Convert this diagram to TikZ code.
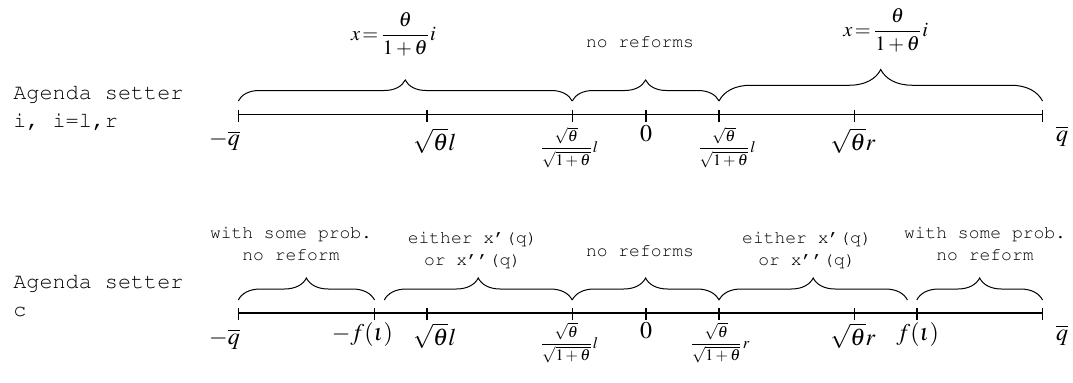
\documentclass[tikz,border=0pt]{standalone}
\usepackage[T1]{fontenc}
\usepackage{amsmath}
\usepackage{mathptmx}
\usepackage{courier}
\usetikzlibrary{decorations.pathreplacing, calc, positioning}

\newcommand{\agendafont}{\fontsize{10.9}{14}\selectfont\ttfamily}
\newcommand{\notefont}{\fontsize{9}{11}\selectfont\ttfamily}
\newcommand{\cutoff}[1]{{\fontsize{8}{10}\selectfont$\dfrac{\sqrt{\theta}}{\sqrt{1+\theta}}#1$}}
\newcommand{\policy}{{\fontsize{10.2}{12}\selectfont$x\!=\!\dfrac{\theta}{1+\theta}i$}}

\begin{document}
\begin{tikzpicture}[x=0.5pt, y=-0.5pt,
    axis/.style={line width=0.7pt},
    brc/.style={decorate, decoration={brace, amplitude=#1}, line width=0.5pt},
    brc/.default=10.5pt,
    lab/.style={inner sep=0pt, font=\fontsize{12}{14}\selectfont},
    note/.style={inner sep=0pt, align=center, font=\notefont},
    setter/.style={inner sep=0pt, align=left, anchor=west, font=\agendafont}]
    \useasboundingbox (0,0) rectangle (1073,382);

    % upper line: agenda setter i
    \foreach \n/\x in {1/238.3, 2/427, 3/572.2, 4/646, 5/719, 6/854.4, 7/1042.5}
        \coordinate (u\n) at (\x,114.5);
    \draw[axis] (u1) -- (u7);
    \foreach \n in {1,...,7}
        \draw[axis] (u\n) ++(0,-5) -- ++(0,12);
    \node[setter] (seti) at (13,108) {Agenda setter\\i, i=l,r};

    \draw[brc] ($(u1)+(0,-13.5)$) -- ($(u3)+(0,-13.5)$);
    \draw[brc] ($(u3)+(0,-13.5)$) -- ($(u5)+(0,-13.5)$);
    \draw[brc=15.75pt] ($(u5)+(0,-13.5)$) -- ($(u7)+(0,-13.5)$);
    \node[inner sep=0pt] (polleft) at (393.4,34) {\policy};
    \node[note] (noref) at (640,42.2) {no reforms};
    \node[inner sep=0pt] (polright) at (885.7,30.6) {\policy};

    \node[lab] (uq1) at (224.5,140.7) {$-\overline{q}$};
    \node[lab] (ul) at (434.7,140.7) {$\sqrt{\theta}l$};
    \node[inner sep=0pt] (ucl) at (569,147.4) {\cutoff{l}};
    \node[lab] (uzero) at (646,134) {$0$};
    \node[inner sep=0pt] (ucr) at (726.5,147.4) {\cutoff{l}};
    \node[lab] (ur) at (853,140.7) {$\sqrt{\theta}r$};
    \node[lab] (uq2) at (1062,136.6) {$\overline{q}$};

    % lower line: agenda setter c
    \foreach \n/\x in {1/238.3, 2/374.5, 3/427, 4/572.2, 5/646, 6/719, 7/854.4, 8/916.8, 9/1042.5}
        \coordinate (w\n) at (\x,312.8);
    \draw[axis] (w1) -- (w9);
    \foreach \n in {1,...,9}
        \draw[axis] (w\n) ++(0,-5) -- ++(0,12);
    \node[setter] (setc) at (13,296) {Agenda setter\\c};

    \draw[brc=11pt] ($(w1)+(0,-12.8)$) -- ($(w2)+(0,-12.8)$);
    \draw[brc=11pt] ($(w2)+(9.8,-12.8)$) -- ($(w4)+(0,-12.8)$);
    \draw[brc=11pt] ($(w4)+(0,-12.8)$) -- ($(w6)+(0,-12.8)$);
    \draw[brc=11pt] ($(w6)+(0,-12.8)$) -- ($(w8)+(-9.4,-12.8)$);
    \draw[brc=11pt] ($(w8)+(0,-12.8)$) -- ($(w9)+(0,-12.8)$);
    \node[note] (probl) at (291,244) {with some prob.\\no reform};
    \node[note] (eithl) at (472.6,249.8) {either x'(q)\\or x'{}'(q)};
    \node[note] (norefc) at (640,250.4) {no reforms};
    \node[note] (eithr) at (807,249.8) {either x'(q)\\or x'{}'(q)};
    \node[note] (probr) at (985,244) {with some prob.\\no reform};

    \node[lab] (wq1) at (224.5,339) {$-\overline{q}$};
    \node[lab] (wf1) at (362.4,334.8) {$-f(\iota)$};
    \node[lab] (wl) at (434.7,335.6) {$\sqrt{\theta}l$};
    \node[inner sep=0pt] (wcl) at (569,343) {\cutoff{l}};
    \node[lab] (wzero) at (646,330.7) {$0$};
    \node[inner sep=0pt] (wcr) at (719.6,343) {\cutoff{r}};
    \node[lab] (wr) at (853,335.6) {$\sqrt{\theta}r$};
    \node[lab] (wf2) at (917.8,334.8) {$f(\iota)$};
    \node[lab] (wq2) at (1062,335) {$\overline{q}$};
\end{tikzpicture}
\end{document}
